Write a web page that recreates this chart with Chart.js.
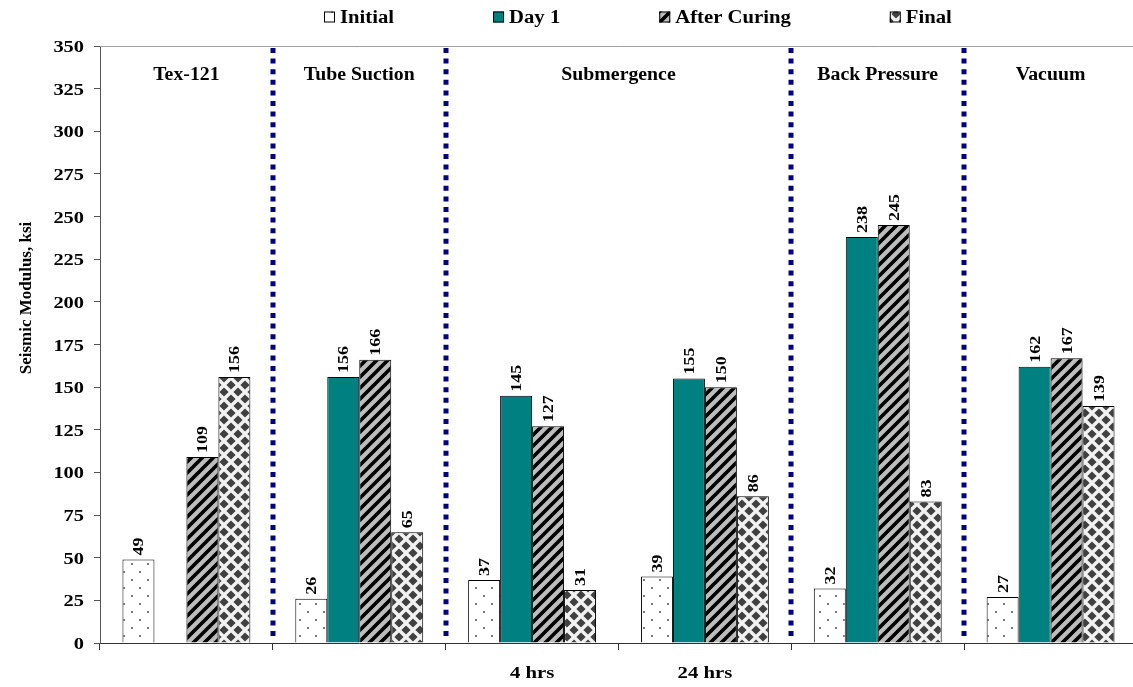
<!DOCTYPE html>
<html><head><meta charset="utf-8">
<script src="https://cdn.jsdelivr.net/npm/chart.js@4.4.1/dist/chart.umd.min.js"></script>
<style>
html,body{margin:0;padding:0;background:#fff;overflow:hidden}
#wrap{position:relative;width:1137px;height:687px}
</style></head>
<body><div id="wrap"><canvas id="c"></canvas></div>
<script>
// ---- data ----
const categories = ['', '', '4 hrs', '24 hrs', '', ''];
const sectionTitles = ['Tex-121', 'Tube Suction', 'Submergence', 'Back Pressure', 'Vacuum'];
const sectionSpans = [[0,0],[1,1],[2,3],[4,4],[5,5]];
const seriesNames = ['Initial', 'Day 1', 'After Curing', 'Final'];
const initialValues = [49, 26, 37, 39, 32, 27];
const day1Values = [null, 156, 145, 155, 238, 162];
const afterCuringValues = [109, 166, 127, 150, 245, 167];
const finalValues = [156, 65, 31, 86, 83, 139];
const yMin = 0, yMax = 350, yStep = 25;
const yTitle = 'Seismic Modulus, ksi';

// ---- styling ----
const FAM = "'Liberation Serif','Times New Roman',serif";

const ctx0 = document.getElementById('c').getContext('2d');
function makePattern(kind){
  const c = document.createElement('canvas'); const x = c.getContext('2d');
  if (kind === 'dots') {
    c.width = c.height = 16;
    x.fillStyle = '#fff'; x.fillRect(0,0,16,16);
    x.fillStyle = '#7a7a7a'; x.fillRect(3,3,2,2); x.fillRect(11,11,2,2);
  } else if (kind === 'stripes') {
    const s = 11; c.width = c.height = s;
    x.fillStyle = '#bdbdbd'; x.fillRect(0,0,s,s);
    x.strokeStyle = '#000'; x.lineWidth = 3.6; x.beginPath();
    x.moveTo(-2, s+2); x.lineTo(s+2, -2);
    x.moveTo(-3, 3); x.lineTo(3, -3);
    x.moveTo(s-3, s+3); x.lineTo(s+3, s-3);
    x.stroke();
  } else if (kind === 'diamonds') {
    const s = 14; c.width = c.height = s;
    x.fillStyle = '#f2f2f2'; x.fillRect(0,0,s,s);
    x.fillStyle = '#404040';
    const d = (cx, cy, r) => { x.beginPath(); x.moveTo(cx, cy-r); x.lineTo(cx+r, cy); x.lineTo(cx, cy+r); x.lineTo(cx-r, cy); x.closePath(); x.fill(); };
    const r = 4.6;
    d(s/2,s/2,r); d(0,0,r); d(s,0,r); d(0,s,r); d(s,s,r);
  }
  return ctx0.createPattern(c, 'repeat');
}
const fills = [makePattern('dots'), '#008080', makePattern('stripes'), makePattern('diamonds')];
const seriesData = [initialValues, day1Values, afterCuringValues, finalValues];

// text drawn with a horizontal stretch along its baseline (as in the reference)
function drawText(ctx, text, x, y, size, align, stretch, rot){
  ctx.save();
  ctx.font = 'bold ' + size + 'px ' + FAM;
  ctx.textAlign = align; ctx.textBaseline = 'alphabetic';
  ctx.translate(x, y);
  if (rot) ctx.rotate(rot);
  ctx.scale(stretch, 1);
  ctx.fillText(text, 0, 0);
  const w = ctx.measureText(text).width * stretch;
  ctx.restore();
  return w;
}

const decor = {
  id: 'decor',
  afterDatasetsDraw(chart){
    const ctx = chart.ctx, ca = chart.chartArea, xs = chart.scales.x, ys = chart.scales.y;
    ctx.save();
    ctx.fillStyle = '#000';
    // top border of plot area
    ctx.strokeStyle = '#a0a0a0'; ctx.lineWidth = 1;
    ctx.beginPath(); ctx.moveTo(ca.left, ca.top + 0.5); ctx.lineTo(ca.right, ca.top + 0.5); ctx.stroke();
    // dotted dividers between sections
    ctx.strokeStyle = '#000080'; ctx.lineWidth = 5; ctx.setLineDash([5, 5.6]); ctx.lineCap = 'butt';
    sectionSpans.slice(0, -1).forEach(sp => {
      const b = sp[1];
      const xp = Math.round((xs.getPixelForValue(b) + xs.getPixelForValue(b + 1)) / 2);
      ctx.beginPath(); ctx.moveTo(xp, ca.top + 2); ctx.lineTo(xp, ca.bottom - 2); ctx.stroke();
    });
    ctx.setLineDash([]);
    // y tick labels
    ys.ticks.forEach(t => {
      drawText(ctx, String(t.value), 84, ys.getPixelForValue(t.value) + 6, 17, 'right', 1.2, 0);
    });
    // x tick labels
    categories.forEach((c, i) => {
      if (c) drawText(ctx, c, xs.getPixelForValue(i), 678, 17, 'center', 1.22, 0);
    });
    // section titles
    sectionTitles.forEach((t, i) => {
      const sp = sectionSpans[i];
      const xc = (xs.getPixelForValue(sp[0]) + xs.getPixelForValue(sp[1])) / 2;
      drawText(ctx, t, xc, 80, 18, 'center', 1.1, 0);
    });
    // data labels
    chart.data.datasets.forEach((ds, di) => {
      const meta = chart.getDatasetMeta(di);
      meta.data.forEach((el, j) => {
        const v = ds.data[j];
        if (v === null || v === undefined) return;
        drawText(ctx, String(v), el.x + 5, el.y - 4, 15, 'left', 1.2, -Math.PI / 2);
      });
    });
    // y axis title
    drawText(ctx, yTitle, 31, 298, 17, 'center', 1.0, -Math.PI / 2);
    // legend
    let lx = 324; const ly = 17;
    chart.data.datasets.forEach((ds) => {
      ctx.fillStyle = ds.backgroundColor; ctx.fillRect(lx, ly - 5.5, 11, 11);
      ctx.strokeStyle = '#000'; ctx.lineWidth = 1; ctx.strokeRect(lx + 0.5, ly - 5, 10, 10);
      ctx.fillStyle = '#000';
      const w = drawText(ctx, ds.label, lx + 16, ly + 6, 18, 'left', 1.15, 0);
      lx += 16 + w + 99;
    });
    ctx.restore();
  }
};

new Chart(document.getElementById('c'), {
  type: 'bar',
  data: {
    labels: categories,
    datasets: seriesNames.map((n, i) => ({
      label: n, data: seriesData[i], backgroundColor: fills[i],
      borderColor: '#000', borderWidth: 1
    }))
  },
  options: {
    responsive: true, maintainAspectRatio: false, animation: false,
    layout: { padding: { top: 46, right: 0, bottom: 0, left: 0 } },
    datasets: { bar: { categoryPercentage: 0.74, barPercentage: 1 } },
    plugins: { legend: { display: false }, tooltip: { enabled: false } },
    scales: {
      x: {
        grid: { offset: true, drawOnChartArea: false, drawTicks: true, tickLength: 7, color: '#333' },
        border: { color: '#333', width: 1 },
        ticks: { display: false, autoSkip: false },
        afterFit: s => { s.height = 44; }
      },
      y: {
        min: yMin, max: yMax,
        ticks: { stepSize: yStep, display: false },
        grid: { drawOnChartArea: false, tickLength: 6, color: '#555' },
        border: { color: '#555', width: 1 },
        afterFit: s => { s.width = 100; }
      }
    }
  },
  plugins: [decor]
});
</script>
</body></html>
